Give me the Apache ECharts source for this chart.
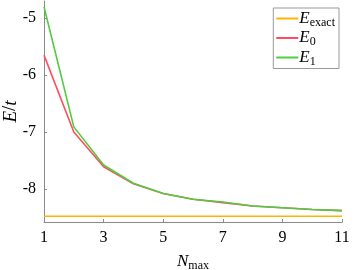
<!DOCTYPE html>
<html>
<head>
<meta charset="utf-8">
<script src="https://cdn.jsdelivr.net/npm/echarts@6/dist/echarts.min.js"></script>
<style>
  html, body { margin: 0; padding: 0; background: #fff; }
  #chart { width: 353px; height: 270px; }
</style>
</head>
<body>
<div id="chart"></div>
<script>
// N_max values on the x axis
const nmax = [1, 2, 3, 4, 5, 6, 7, 8, 9, 10, 11];
// energies
const eExact = [-8.48, -8.48, -8.48, -8.48, -8.48, -8.48, -8.48, -8.48, -8.48, -8.48, -8.48];
const e0 = [-5.65, -7.0, -7.61, -7.91, -8.08, -8.18, -8.24, -8.30, -8.33, -8.36, -8.38];
const e1 = [-4.80, -6.91, -7.58, -7.90, -8.08, -8.18, -8.23, -8.30, -8.33, -8.36, -8.38];
const yTicks = [-8, -7, -6, -5];
const xTicks = [1, 3, 5, 7, 9, 11];

const serif = "Liberation Serif";
const axisGray = "#8a8a8a";

const chart = echarts.init(document.getElementById("chart"));

const pairs = (ys) => nmax.map((x, i) => [x, ys[i]]);

const rich = {
  i: {fontFamily: serif, fontStyle: "italic", fontSize: 17, color: "#000"},
  s: {fontFamily: serif, fontSize: 12, color: "#000", padding: [8, 0, 0, 0]},
  n: {fontFamily: serif, fontSize: 17, color: "#000"}
};

const option = {
  backgroundColor: "#fff",
  animation: false,
  grid: {left: 44, right: 11, top: 1, bottom: 48, outerBoundsMode: "none"},
  legend: {
    orient: "vertical",
    right: 14,
    top: 8,
    padding: [2, 4, 1, 3],
    icon: "rect",
    itemWidth: 22,
    itemHeight: 2,
    itemGap: 1,
    borderColor: "#999",
    borderWidth: 1,
    borderRadius: 0,
    backgroundColor: "#fff",
    data: ["exact", "e0", "e1"],
    formatter: function (name) {
      if (name === "exact") return "{i|E}{s|exact}";
      if (name === "e0") return "{i|E}{s|0}";
      return "{i|E}{s|1}";
    },
    textStyle: {fontFamily: serif, fontSize: 17, rich: rich, padding: [0, 0, 0, -4]}
  },
  xAxis: {
    type: "value",
    min: 1,
    max: 11,
    interval: 2,
    name: "{i|N}{s|max}",
    nameLocation: "middle",
    nameGap: 30,
    nameMoveOverlap: false,
    nameTextStyle: {fontFamily: serif, fontSize: 17, rich: rich},
    axisLine: {lineStyle: {color: axisGray, width: 1}},
    axisTick: {inside: true, length: 3, lineStyle: {color: axisGray}},
    splitLine: {show: false},
    axisLabel: {
      fontFamily: serif, fontSize: 16, color: "#000", margin: 8,
      customValues: xTicks
    }
  },
  yAxis: {
    type: "value",
    min: -8.58,
    max: -4.7,
    name: "{i|E}{n|/}{i|t}",
    nameLocation: "middle",
    nameGap: 24,
    nameMoveOverlap: false,
    nameTextStyle: {fontFamily: serif, fontSize: 19, rich: {
      i: {fontFamily: serif, fontStyle: "italic", fontSize: 19, color: "#000"},
      n: {fontFamily: serif, fontSize: 19, color: "#000"}
    }},
    axisLine: {show: true, lineStyle: {color: axisGray, width: 1}},
    axisTick: {show: true, inside: true, length: 3, lineStyle: {color: axisGray}, customValues: yTicks},
    splitLine: {show: false},
    axisLabel: {
      fontFamily: serif, fontSize: 16, color: "#000", margin: 8,
      customValues: yTicks
    }
  },
  series: [
    {
      name: "exact", type: "line", symbol: "none", data: pairs(eExact),
      lineStyle: {color: "#ffb300", width: 1.6}, itemStyle: {color: "#ffb300"}
    },
    {
      name: "e0", type: "line", symbol: "none", data: pairs(e0),
      lineStyle: {color: "#ff4d5e", width: 1.6}, itemStyle: {color: "#ff4d5e"}
    },
    {
      name: "e1", type: "line", symbol: "none", data: pairs(e1),
      lineStyle: {color: "#4fcc3f", width: 1.6}, itemStyle: {color: "#4fcc3f"}
    }
  ]
};

chart.setOption(option);
</script>
</body>
</html>
